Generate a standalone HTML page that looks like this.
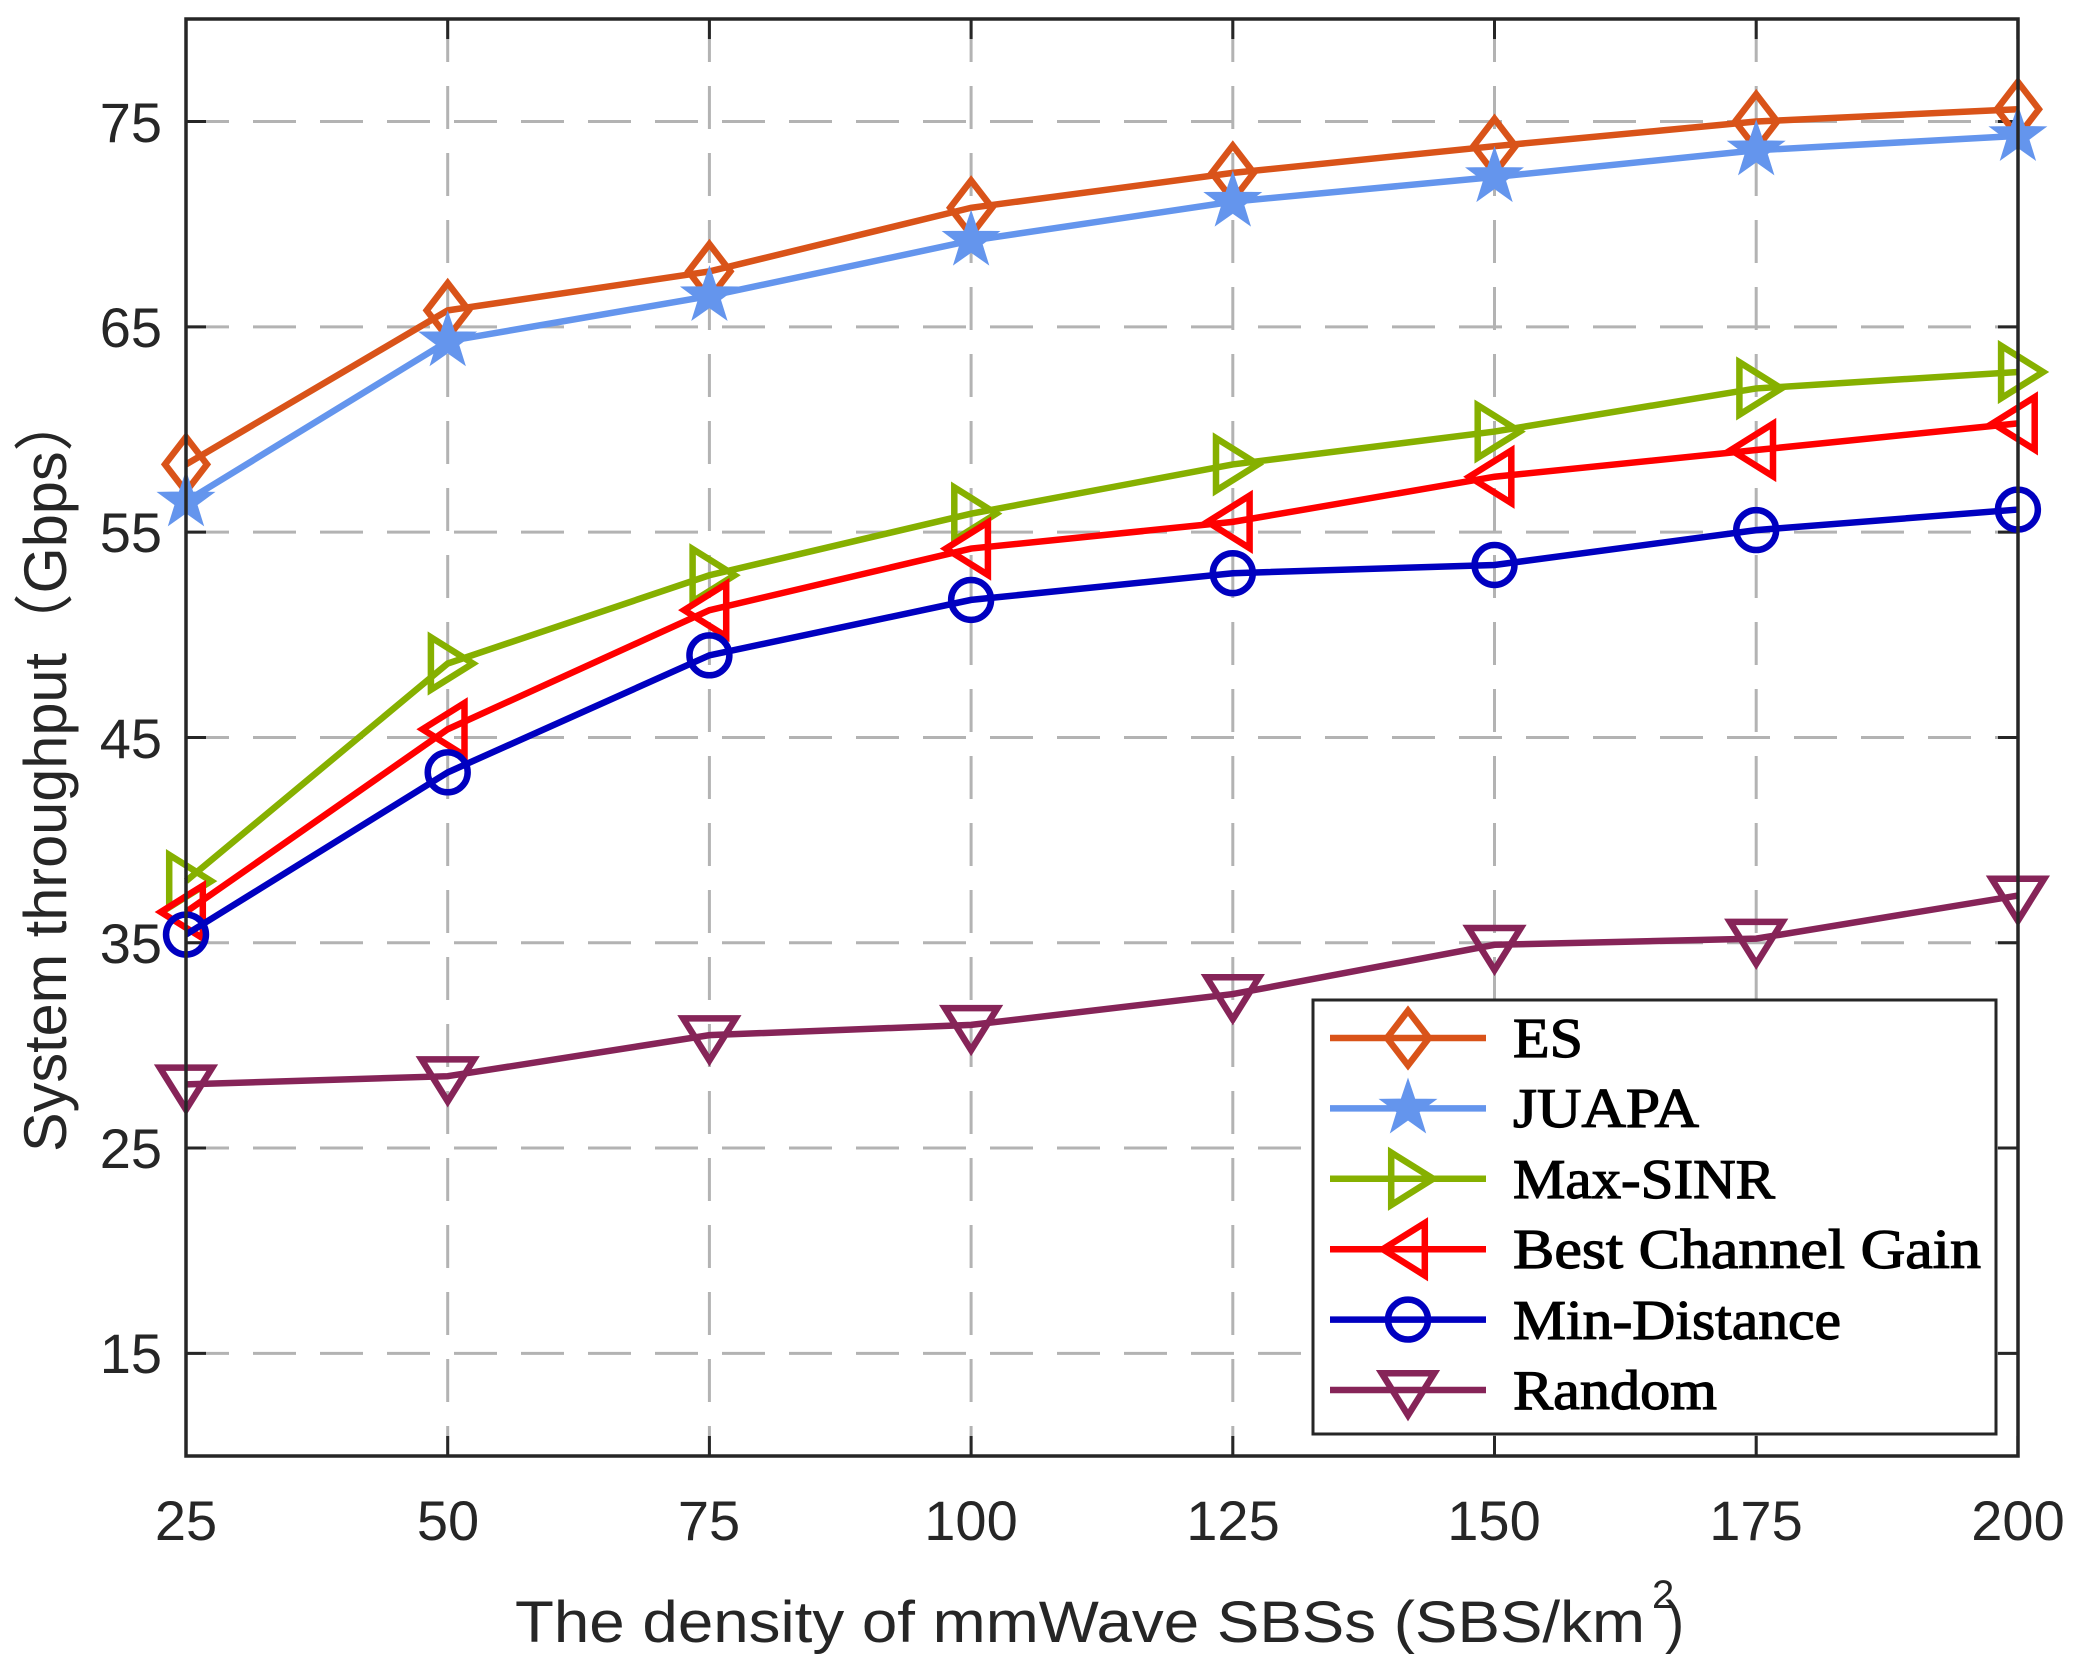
<!DOCTYPE html>
<html><head><meta charset="utf-8"><style>body{margin:0;background:#fff}svg{display:block}</style></head>
<body>
<svg id="s" width="2086" height="1676" viewBox="0 0 2086 1676" xmlns="http://www.w3.org/2000/svg">
<rect width="2086" height="1676" fill="#fff"/>
<g id="grid" stroke="#b3b3b3" stroke-width="3" stroke-dasharray="43 24"></g>
<g id="ticks" stroke="#262626" stroke-width="3"></g>
<g id="series"></g>
<rect x="186" y="19" width="1832" height="1437" fill="none" stroke="#262626" stroke-width="3.5"/>
<g font-family="Liberation Sans, sans-serif" font-size="56" fill="#262626">
<text x="162" y="1373" text-anchor="end">15</text>
<text x="162" y="1168" text-anchor="end">25</text>
<text x="162" y="963" text-anchor="end">35</text>
<text x="162" y="758" text-anchor="end">45</text>
<text x="162" y="552" text-anchor="end">55</text>
<text x="162" y="347" text-anchor="end">65</text>
<text x="162" y="142" text-anchor="end">75</text>
<g text-anchor="middle">
<text x="186" y="1540">25</text><text x="448" y="1540">50</text><text x="709" y="1540">75</text><text x="971" y="1540">100</text>
<text x="1233" y="1540">125</text><text x="1494" y="1540">150</text><text x="1756" y="1540">175</text><text x="2018" y="1540">200</text>
</g>
<text x="515" y="1642" font-size="58" textLength="1130" lengthAdjust="spacingAndGlyphs">The density of mmWave SBSs (SBS/km</text>
<text x="1652" y="1608" font-size="40">2</text>
<text x="1665" y="1642" font-size="58">)</text>
<text transform="translate(66,772) rotate(-90)" text-anchor="middle" font-size="60" textLength="760" lengthAdjust="spacingAndGlyphs">System throughput（Gbps）</text>
</g>
<rect x="1313" y="1000" width="683" height="434" fill="#fff" stroke="#262626" stroke-width="3"/>
<g id="leg"></g>
<g font-family="Liberation Serif, serif" font-size="56" fill="#000" stroke="#000" stroke-width="1.2">
<text x="1513" y="1057" textLength="70" lengthAdjust="spacingAndGlyphs">ES</text>
<text x="1513" y="1127" textLength="186" lengthAdjust="spacingAndGlyphs">JUAPA</text>
<text x="1513" y="1198" textLength="262" lengthAdjust="spacingAndGlyphs">Max-SINR</text>
<text x="1513" y="1268" textLength="468" lengthAdjust="spacingAndGlyphs">Best Channel Gain</text>
<text x="1513" y="1339" textLength="328" lengthAdjust="spacingAndGlyphs">Min-Distance</text>
<text x="1513" y="1409" textLength="204" lengthAdjust="spacingAndGlyphs">Random</text>
</g>
</svg>
<script>
const NS="http://www.w3.org/2000/svg";
function el(p,t,a){const e=document.createElementNS(NS,t);for(const k in a)e.setAttribute(k,a[k]);p.appendChild(e);return e;}
const X=v=>186+(v-25)/25*261.7, Y=v=>1456-(v-10)*20.53;
const g=document.getElementById('grid'),tk=document.getElementById('ticks');
for(let v=25;v<=200;v+=25){if(v>25&&v<200)el(g,'line',{x1:X(v),x2:X(v),y1:19,y2:1456});el(tk,'line',{x1:X(v),x2:X(v),y1:1456,y2:1436});el(tk,'line',{x1:X(v),x2:X(v),y1:19,y2:39});}
for(let v=15;v<=75;v+=10){el(g,'line',{x1:186,x2:2018,y1:Y(v),y2:Y(v)});el(tk,'line',{x1:186,x2:206,y1:Y(v),y2:Y(v)});el(tk,'line',{x1:2018,x2:1998,y1:Y(v),y2:Y(v)});}
const S=[
["#D95319","d",[58.3,65.8,67.7,70.8,72.5,73.8,75,75.6]],
["#6495ED","s",[56.5,64.3,66.5,69.2,71.1,72.3,73.6,74.3]],
["#86B000","r",[38,48.6,52.9,55.9,58.3,59.9,62,62.8]],
["#FF0000","l",[36.5,45.4,51.2,54.2,55.5,57.7,59,60.3]],
["#0000C0","o",[35.4,43.3,49,51.7,53,53.4,55.1,56.1]],
["#862458","v",[28.1,28.5,30.5,31,32.5,34.9,35.2,37.3]]];
function mk(p,c,t,x,y){const r=21;let a={fill:'none',stroke:c,'stroke-width':6.5};
if(t=='d')el(p,'polygon',Object.assign({points:`${x},${y-r*1.3} ${x+r},${y} ${x},${y+r*1.3} ${x-r},${y}`},a));
else if(t=='o')el(p,'circle',Object.assign({cx:x,cy:y,r:r*0.95},a));
else if(t=='r')el(p,'polygon',Object.assign({points:`${x-r*0.8},${y-r*1.25} ${x+r*1.2},${y} ${x-r*0.8},${y+r*1.25}`},a));
else if(t=='l')el(p,'polygon',Object.assign({points:`${x+r*0.8},${y-r*1.25} ${x-r*1.2},${y} ${x+r*0.8},${y+r*1.25}`},a));
else if(t=='v')el(p,'polygon',Object.assign({points:`${x-r*1.25},${y-r*0.8} ${x+r*1.25},${y-r*0.8} ${x},${y+r*1.2}`},a));
else{let pts=[];for(let i=0;i<10;i++){const R=i%2?r*0.55:r*1.4,an=-Math.PI/2+i*Math.PI/5;pts.push((x+R*Math.cos(an)).toFixed(1)+','+(y+R*Math.sin(an)).toFixed(1));}el(p,'polygon',{points:pts.join(' '),fill:c,stroke:c,'stroke-width':1});}}
const sg=document.getElementById('series'),lg=document.getElementById('leg');
S.forEach((s,i)=>{const pts=s[2].map((v,j)=>[X(25+25*j),Y(v)]);
el(sg,'polyline',{points:pts.map(p=>p.join(',')).join(' '),fill:'none',stroke:s[0],'stroke-width':6.5});
pts.forEach(p=>mk(sg,s[0],s[1],p[0],p[1]));
const ly=1038+i*70.4;el(lg,'line',{x1:1330,x2:1486,y1:ly,y2:ly,stroke:s[0],'stroke-width':6.5});mk(lg,s[0],s[1],1408,ly);});
</script>
</body></html>
